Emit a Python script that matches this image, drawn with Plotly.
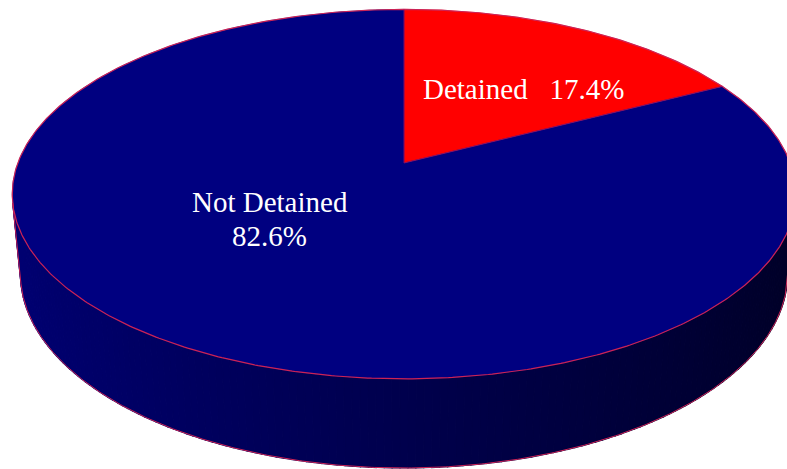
import numpy as np
import plotly.graph_objects as go

# ---- data ----
labels = ["Detained", "Not Detained"]
values = [17.4, 82.6]

# ---- style / geometry (perspective 3D pie) ----
slice_colors = [(255, 0, 0), (0, 0, 128)]
W, H = 787, 469
CX, CY = 404.0, 163.0          # projected pie centre (pixels)
ELEV = np.radians(27.7)
SE, CE = np.sin(ELEV), np.cos(ELEV)
DIST = 5.257
FOC = 2030.0
THICK = 0.2354
EDGE = "#CC2255"


def proj(theta_deg, r=1.0, y=0.0):
    th = np.radians(np.asarray(theta_deg, dtype=float))
    X = r * np.sin(th)
    Z = r * np.cos(th)
    d = DIST + Z * CE - y * SE
    u = Z * SE + y * CE
    return CX + FOC * X / d, CY - FOC * u / d


def rgb(c, k=1.0):
    return "rgb(%d,%d,%d)" % tuple(int(round(v * k)) for v in c)


total = float(sum(values))
angles = np.concatenate([[0.0], np.cumsum(values) / total * 360.0])

fig = go.Figure()

# visible part of the cylinder wall
th_vis = np.degrees(np.arccos(-1.0 / (DIST * CE)))
vis_lo, vis_hi = th_vis, 360.0 - th_vis

for i, lab in enumerate(labels):
    a0, a1 = angles[i], angles[i + 1]
    lo, hi = max(a0, vis_lo), min(a1, vis_hi)
    if hi <= lo:
        continue
    n = max(2, int((hi - lo) / 1.0))
    edges = np.linspace(lo, hi, n + 1)
    for j in range(n):
        t0, t1 = edges[j], edges[j + 1]
        ts = np.linspace(t0, t1, 3)
        xt, yt = proj(ts, 1.0, 0.0)
        xb, yb = proj(ts[::-1], 1.0, -THICK)
        tm = np.radians(0.5 * (t0 + t1))
        k = 0.60 - 0.30 * np.sin(tm)
        col = rgb(slice_colors[i], k)
        fig.add_trace(go.Scatter(
            x=np.concatenate([xt, xb, xt[:1]]), y=np.concatenate([yt, yb, yt[:1]]),
            mode="lines", fill="toself", fillcolor=col,
            line=dict(color=col, width=1.2), hoverinfo="skip", showlegend=False))

# top face slices
for i, lab in enumerate(labels):
    a0, a1 = angles[i], angles[i + 1]
    ts = np.linspace(a0, a1, max(3, int((a1 - a0) * 2)))
    xa, ya = proj(ts)
    xs = np.concatenate([[CX], xa, [CX]])
    ys = np.concatenate([[CY], ya, [CY]])
    fig.add_trace(go.Scatter(
        x=xs, y=ys, mode="lines", fill="toself", fillcolor=rgb(slice_colors[i]),
        line=dict(color=rgb(slice_colors[i]), width=0.5),
        name=lab, hoverinfo="name", showlegend=False))

# outlines
ts = np.linspace(0, 360, 721)
xo, yo = proj(ts)
fig.add_trace(go.Scatter(x=xo, y=yo, mode="lines", line=dict(color=EDGE, width=1.2),
                         hoverinfo="skip", showlegend=False))
tb = np.linspace(vis_lo, vis_hi, 400)
xb, yb = proj(tb, 1.0, -THICK)
xl0, yl0 = proj([vis_lo], 1.0, 0.0)
xl1, yl1 = proj([vis_hi], 1.0, 0.0)
fig.add_trace(go.Scatter(x=np.concatenate([xl0, xb, xl1]), y=np.concatenate([yl0, yb, yl1]),
                         mode="lines", line=dict(color=EDGE, width=1),
                         hoverinfo="skip", showlegend=False))
for a in angles[:-1]:
    xe, ye = proj([a])
    fig.add_trace(go.Scatter(x=[CX, xe[0]], y=[CY, ye[0]], mode="lines",
                             line=dict(color="#A01060", width=0.8),
                             hoverinfo="skip", showlegend=False))

# labels
font = dict(family="Liberation Serif, Times New Roman, serif", size=29, color="white")
pct = ["%.1f%%" % v for v in values]
fig.add_annotation(x=523, y=89, xref="x", yref="y", showarrow=False, font=font,
                   text=labels[0] + "\u00a0\u00a0\u00a0" + pct[0])
fig.add_annotation(x=270, y=202, xref="x", yref="y", showarrow=False, font=font,
                   text=labels[1])
fig.add_annotation(x=269, y=236, xref="x", yref="y", showarrow=False, font=font,
                   text=pct[1])

fig.update_layout(
    width=W, height=H, margin=dict(l=0, r=0, t=0, b=0),
    paper_bgcolor="white", plot_bgcolor="white",
    xaxis=dict(range=[0, W], visible=False, fixedrange=True),
    yaxis=dict(range=[H, 0], visible=False, fixedrange=True),
)
fig.write_html("out.html", config={"displayModeBar": False},
               post_script="document.body.style.margin='0';document.body.style.overflow='hidden';")
